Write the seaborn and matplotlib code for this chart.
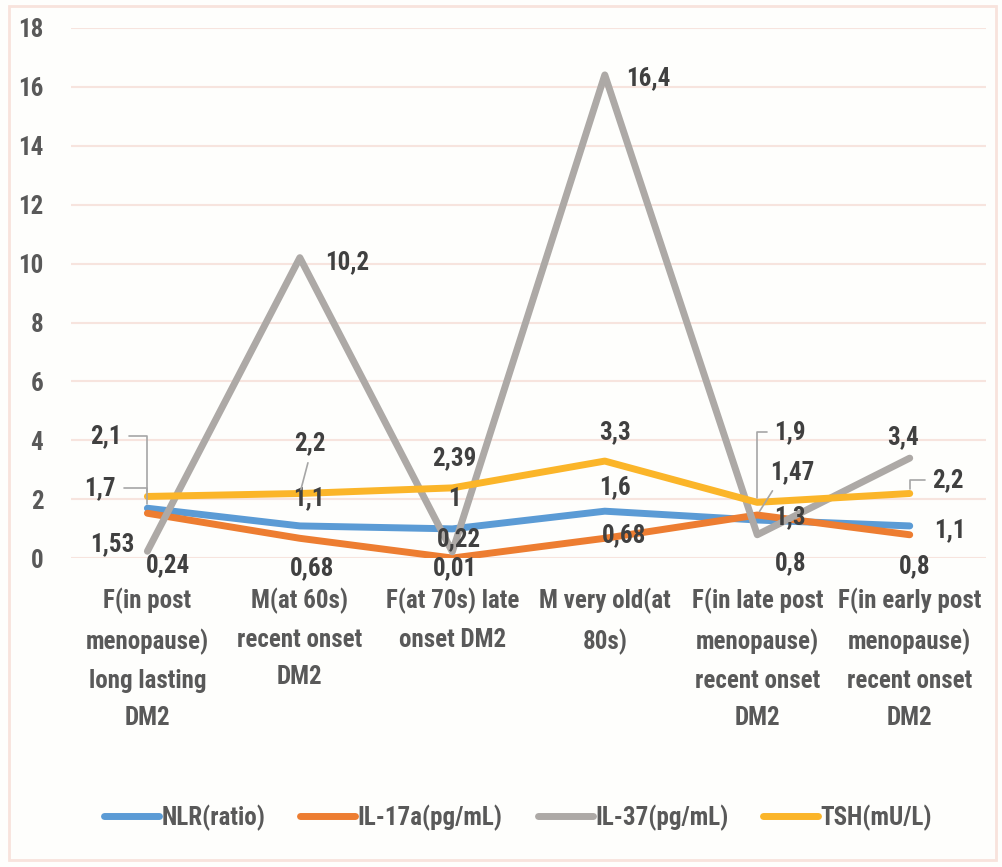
import numpy as np
import pandas as pd
import matplotlib
matplotlib.use("Agg")
import matplotlib.pyplot as plt
import seaborn as sns
from matplotlib.patches import Rectangle
from matplotlib.lines import Line2D

# categories and series
categories = [
    "F(in post\nmenopause)\nlong lasting\nDM2",
    "M(at 60s)\nrecent onset\nDM2",
    "F(at 70s) late\nonset DM2",
    "M very old(at\n80s)",
    "F(in late post\nmenopause)\nrecent onset\nDM2",
    "F(in early post\nmenopause)\nrecent onset\nDM2",
]
series_names = ["NLR(ratio)", "IL-17a(pg/mL)", "IL-37(pg/mL)", "TSH(mU/L)"]
nlr = [1.7, 1.1, 1.0, 1.6, 1.3, 1.1]
il17a = [1.53, 0.68, 0.01, 0.68, 1.47, 0.8]
il37 = [0.24, 10.2, 0.22, 16.4, 0.8, 3.4]
tsh = [2.1, 2.2, 2.39, 3.3, 1.9, 2.2]
y_ticks = [0, 2, 4, 6, 8, 10, 12, 14, 16, 18]

colors = ["#5B9BD5", "#ED7D31", "#ADA9A6", "#FBB529"]
values = [nlr, il17a, il37, tsh]

rows = []
for name, vals in zip(series_names, values):
    for i, v in enumerate(vals):
        rows.append({"x": i, "value": v, "series": name})
df = pd.DataFrame(rows)

sns.set_style("white")
plt.rcParams["font.family"] = ["Liberation Sans Narrow", "Roboto Condensed", "Lato", "DejaVu Sans"]
plt.rcParams["font.weight"] = "bold"

fig = plt.figure(figsize=(10.02, 8.67), dpi=100)
fig.patch.set_facecolor("#FEFEFC")
ax = fig.add_axes([0.071, 0.356, 0.913, 0.612])
ax.set_facecolor("#FEFEFC")

sns.lineplot(data=df, x="x", y="value", hue="series", hue_order=series_names,
             palette=colors, linewidth=5, ax=ax, legend=False, sort=False)

ax.set_xlim(-0.5, 5.5)
ax.set_ylim(0, 18)
ax.set_yticks(y_ticks)
ax.set_yticklabels([str(t) for t in y_ticks])
ax.set_xticks(range(len(categories)))
ax.set_xticklabels(categories, linespacing=1.72, va="top")
ax.tick_params(axis="y", length=0, pad=20, labelsize=18, labelcolor="#595959")
ax.tick_params(axis="x", length=0, pad=21, labelsize=18, labelcolor="#595959")
for t in ax.get_xticklabels() + ax.get_yticklabels():
    t.set_fontweight("bold")
ax.grid(axis="y", color="#F7E4DE", linewidth=1.5)
ax.set_axisbelow(True)
for s in ax.spines.values():
    s.set_visible(False)
ax.set_xlabel("")
ax.set_ylabel("")

# data label offsets in pixels (dx, dy) and leader line settings (relpos, connection)
label_pos = {
    "NLR(ratio)": [(-47, 20, ((1, 0.5), "angle,angleA=0,angleB=90,rad=0")),
                   (9, 28, None), (2, 30, None), (10, 24, None), (33, 3, None), (40, -4, None)],
    "IL-17a(pg/mL)": [(-35, -31, None), (12, -30, None), (3, -10, None), (19, 3, None),
                      (35, 43, ((0.15, 0), "arc3")), (5, -31, None)],
    "IL-37(pg/mL)": [(21, -14, None), (47, -5, None), (7, 13, None), (44, -3, None),
                     (33, -28, None), (-7, 21, None)],
    "TSH(mU/L)": [(-42, 60, ((1, 0.5), "angle,angleA=0,angleB=90,rad=0")),
                  (10, 50, ((0.5, 0), "arc3")), (2, 30, None), (10, 29, None),
                  (33, 70, ((0, 0.5), "angle,angleA=0,angleB=90,rad=0")),
                  (38, 13, ((0, 0.5), "angle,angleA=0,angleB=90,rad=0"))],
}

def fmt(v):
    return ("%g" % v).replace(".", ",")

for name, vals in zip(series_names, values):
    for i, v in enumerate(vals):
        dx, dy, leader = label_pos[name][i]
        kw = {}
        if leader:
            rp, cs = leader
            kw["arrowprops"] = dict(arrowstyle="-", color="#A6A6A6", lw=1.2,
                                    shrinkA=3, shrinkB=3, relpos=rp, connectionstyle=cs)
        ax.annotate(fmt(v), xy=(i, v), xytext=(dx, dy), textcoords="offset pixels",
                    ha="center", va="center", fontsize=18, fontweight="bold",
                    color="#404040", **kw)

# legend
handles = [Line2D([0], [0], color=c, lw=5, solid_capstyle="round") for c in colors]
leg = fig.legend(handles, series_names, loc="center", bbox_to_anchor=(0.517, 0.057),
                 ncol=4, frameon=False, fontsize=18, handlelength=2.2,
                 handletextpad=0.1, columnspacing=1.4)
for t in leg.get_texts():
    t.set_color("#595959")
    t.set_fontweight("bold")

# chart area border
fig.patches.append(Rectangle((0.009, 0.008), 0.985, 0.985, transform=fig.transFigure,
                             fill=False, edgecolor="#F8E3DC", linewidth=2))

fig.savefig("out.png", dpi=100, facecolor=fig.get_facecolor())
